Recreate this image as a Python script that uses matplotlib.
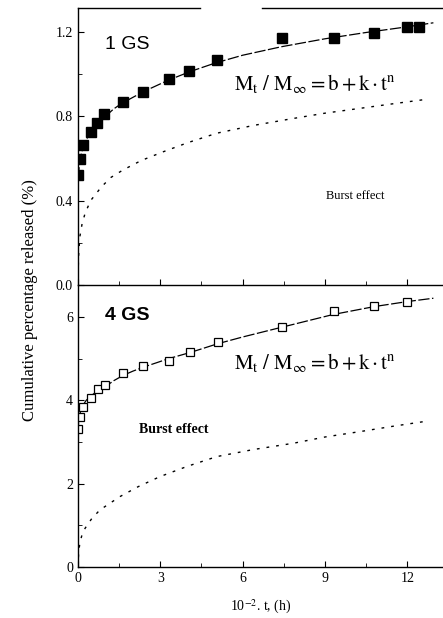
import matplotlib
matplotlib.use("Agg")
import matplotlib.pyplot as plt
from matplotlib.ticker import MultipleLocator, FormatStrFormatter

plt.rcParams["font.family"] = ["Liberation Serif", "DejaVu Serif"]
plt.rcParams["mathtext.fontset"] = "stix"

t_1gs = [0.01, 0.07, 0.19, 0.46, 0.68, 0.95, 1.63, 2.38, 3.32, 4.06, 5.06, 7.42, 9.33, 10.77, 11.98, 12.44]
m_1gs = [0.52, 0.596, 0.664, 0.724, 0.77, 0.81, 0.868, 0.915, 0.977, 1.017, 1.067, 1.17, 1.17, 1.194, 1.222, 1.225]
fit_t_1gs = [0.0, 0.02, 0.05, 0.1, 0.2, 0.35, 0.5, 0.75, 1.0, 1.3, 1.6, 2.0, 2.4, 2.9, 3.3, 4.1, 5.0, 6.0, 7.4, 9.0, 10.5, 12.0, 12.95]
fit_m_1gs = [0.44, 0.52, 0.57, 0.61, 0.66, 0.70, 0.73, 0.77, 0.80, 0.835, 0.862, 0.89, 0.918, 0.948, 0.972, 1.013, 1.053, 1.09, 1.13, 1.168, 1.198, 1.225, 1.244]
burst_t_1gs = [0.0, 0.01, 0.03, 0.07, 0.15, 0.26, 0.46, 0.86, 1.2, 1.65, 2.3, 3.11, 4.0, 5.06, 6.4, 7.85, 9.0, 10.28, 11.5, 12.77]
burst_m_1gs = [0.0, 0.08, 0.16, 0.23, 0.29, 0.34, 0.40, 0.466, 0.51, 0.546, 0.59, 0.632, 0.675, 0.72, 0.757, 0.79, 0.815, 0.838, 0.86, 0.882]

# 4 GS
t_4gs = [0.01, 0.07, 0.19, 0.46, 0.74, 0.98, 1.65, 2.38, 3.3, 4.1, 5.09, 7.42, 9.33, 10.77, 11.98]
m_4gs = [3.3, 3.6, 3.85, 4.05, 4.28, 4.36, 4.65, 4.82, 4.94, 5.16, 5.40, 5.76, 6.15, 6.26, 6.36]
fit_t_4gs = [0.0, 0.02, 0.05, 0.1, 0.2, 0.3, 0.5, 0.7, 1.0, 1.3, 1.65, 2.0, 2.4, 2.9, 3.3, 4.1, 5.1, 6.0, 7.4, 9.3, 10.8, 12.0, 12.95]
fit_m_4gs = [3.2, 3.45, 3.62, 3.75, 3.9, 4.0, 4.12, 4.22, 4.33, 4.47, 4.6, 4.7, 4.8, 4.91, 5.0, 5.15, 5.36, 5.52, 5.75, 6.06, 6.25, 6.37, 6.45]
burst_t_4gs = [0.0, 0.01, 0.03, 0.07, 0.15, 0.26, 0.5, 0.8, 1.53, 2.2, 2.99, 4.0, 5.06, 6.4, 7.85, 9.0, 10.28, 11.5, 12.71]
burst_m_4gs = [0.0, 0.18, 0.38, 0.58, 0.78, 0.93, 1.16, 1.37, 1.69, 1.93, 2.17, 2.42, 2.65, 2.82, 2.97, 3.12, 3.25, 3.38, 3.5]

XMAX = 13.3
FIT_LS = (0, (9, 2))
BURST_LS = (0, (2, 5))
FORMULA = r"$\mathrm{M_t\ /\ M_{\infty} = b + k\cdot t^n}$"


def style_axis(ax, ymax, ymajor, yminor):
    ax.set_xlim(0, XMAX)
    ax.set_ylim(0, ymax)
    ax.xaxis.set_major_locator(MultipleLocator(3))
    ax.xaxis.set_minor_locator(MultipleLocator(1.5))
    ax.yaxis.set_major_locator(MultipleLocator(ymajor))
    ax.yaxis.set_minor_locator(MultipleLocator(yminor))
    ax.tick_params(which="both", direction="in", labelsize=10, top=False, right=False)
    ax.tick_params(which="major", length=4)
    ax.tick_params(which="minor", length=3)
    ax.spines["right"].set_visible(False)
    ax.spines["top"].set_visible(False)
    ax.patch.set_alpha(0)
    for s in ax.spines.values():
        s.set_linewidth(1.0)


fig = plt.figure(figsize=(4.43, 6.18), dpi=100)
ax2 = fig.add_axes([0.176, 0.0825, 0.824, 0.4565])
ax1 = fig.add_axes([0.176, 0.539, 0.824, 0.448])

# top panel
style_axis(ax1, 1.314, 0.4, 0.2)
ax1.yaxis.set_major_formatter(FormatStrFormatter("%.1f"))
ax1.tick_params(labelbottom=False)
# broken top frame line, as in the scan
ax1.plot([0, 0.334], [1, 1], color="black", lw=1.0, transform=ax1.transAxes, clip_on=False)
ax1.plot([0.504, 1.0], [1, 1], color="black", lw=1.0, transform=ax1.transAxes, clip_on=False)
ax1.plot(fit_t_1gs, fit_m_1gs, color="black", lw=0.9, linestyle=FIT_LS)
ax1.plot(burst_t_1gs, burst_m_1gs, color="black", lw=1.0, linestyle=BURST_LS)
ax1.plot(t_1gs, m_1gs, "s", color="black", ms=6.5, mec="black")
ax1.text(1.0, 1.14, "1 GS", fontsize=14, family="Liberation Sans", va="center")
ax1.text(5.7, 0.955, FORMULA, fontsize=15, va="center")
ax1.text(10.1, 0.42, "Burst effect", fontsize=9, ha="center", va="center")

# bottom panel
style_axis(ax2, 6.77, 2, 1)
ax2.plot(fit_t_4gs, fit_m_4gs, color="black", lw=0.9, linestyle=FIT_LS)
ax2.plot(burst_t_4gs, burst_m_4gs, color="black", lw=1.0, linestyle=BURST_LS)
ax2.plot(t_4gs, m_4gs, "s", color="black", ms=5.5, mfc="white", mec="black", mew=0.9)
ax2.text(1.0, 6.04, "4 GS", fontsize=14, family="Liberation Sans", fontweight="bold", va="center")
ax2.text(5.7, 4.9, FORMULA, fontsize=15, va="center")
ax2.text(3.5, 3.31, "Burst effect", fontsize=10, fontweight="bold", ha="center", va="center")
ax2.set_xlabel(r"10$^{-2}$. t, (h)", fontsize=10, labelpad=9)

fig.text(0.068, 0.515, "Cumulative percentage released (%)", rotation=90,
         fontsize=12, ha="center", va="center")

fig.savefig("out.png", dpi=100)
